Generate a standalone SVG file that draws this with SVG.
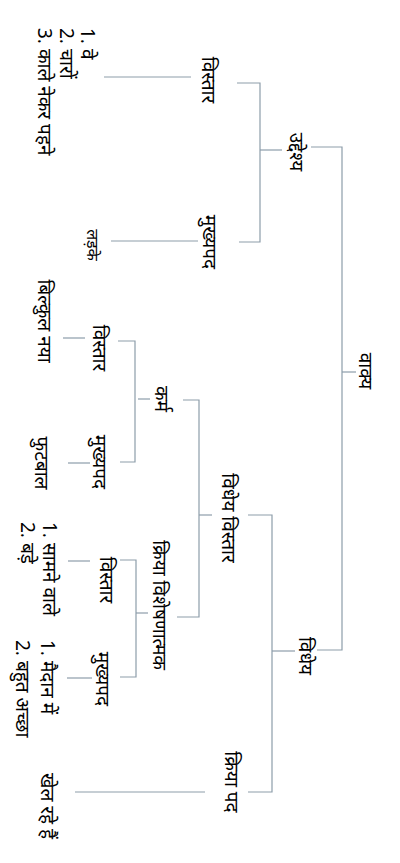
<svg xmlns="http://www.w3.org/2000/svg" width="400" height="863" viewBox="0 0 400 863">
<style>
.c{fill:none;stroke:#8d9daa;stroke-width:1.2}
text{font-family:"Noto Sans","Noto Sans Devanagari","Lohit Devanagari","DejaVu Sans",sans-serif;font-size:19px;fill:#000}
.m{text-anchor:middle}
</style>
<rect width="400" height="863" fill="#fff"/>
<g id="connectors" class="c">
<path d="M342,372H356"/>
<path d="M311,147H342V650H317"/>
<path d="M282,150H260"/>
<path d="M237,83H260V242H239"/>
<path d="M104,77H191"/>
<path d="M111,241H198"/>
<path d="M183,400H199V617H177"/>
<path d="M199,515H212"/>
<path d="M150,399H138"/>
<path d="M118,341H135V462H120"/>
<path d="M63,338H85"/>
<path d="M68,463H90"/>
<path d="M148,613H136"/>
<path d="M120,560H136V677H120"/>
<path d="M68,561H90"/>
<path d="M67,678H92"/>
<path d="M295,651H272"/>
<path d="M248,515H272V792H248"/>
<path d="M205,792H75"/>
</g>
<g id="n-vakya"><text class="m" transform="translate(359,371) rotate(90)">वाक्य</text></g>
<g id="n-uddeshya"><text class="m" transform="translate(290,152) rotate(90)">उद्देश्य</text></g>
<g id="n-vidheya"><text class="m" transform="translate(299,656) rotate(90)">विधेय</text></g>
<g id="n-u-vistar"><text class="m" transform="translate(202,80) rotate(90)">विस्तार</text></g>
<g id="n-u-mukhya"><text class="m" transform="translate(203,242) rotate(90)">मुख्यपद</text></g>
<g id="n-u-vistar-leaf"><text transform="translate(81,28) rotate(90)"><tspan x="0" y="0">1. वे</tspan><tspan x="0" y="21.5">2. चारों</tspan><tspan x="0" y="43">3. काले नेकर पहने</tspan></text></g>
<g id="n-ladke"><text class="m" style="font-size:16px" transform="translate(87,245) rotate(90)">लड़के</text></g>
<g id="n-vidheya-vistar"><text class="m" transform="translate(222,518) rotate(90)">विधेय विस्तार</text></g>
<g id="n-karma"><text class="m" transform="translate(155,399) rotate(90)">कर्म</text></g>
<g id="n-kriyavishe"><text class="m" transform="translate(153,605) rotate(90)">क्रिया विशेषणात्मक</text></g>
<g id="n-k-vistar"><text class="m" transform="translate(93,348) rotate(90)">विस्तार</text></g>
<g id="n-k-mukhya"><text class="m" transform="translate(93,462) rotate(90)">मुख्यपद</text></g>
<g id="n-bilkul"><text class="m" transform="translate(38,321) rotate(90)">बिल्कुल नया</text></g>
<g id="n-football"><text class="m" transform="translate(35,463) rotate(90)">फुटबाल</text></g>
<g id="n-kv-vistar"><text class="m" transform="translate(100,580) rotate(90)">विस्तार</text></g>
<g id="n-kv-mukhya"><text class="m" transform="translate(96,679) rotate(90)">मुख्यपद</text></g>
<g id="n-samne"><text transform="translate(43,522) rotate(90)"><tspan x="0" y="0">1. सामने वाले</tspan><tspan x="0" y="22">2. बड़े</tspan></text></g>
<g id="n-maidan"><text transform="translate(41,640) rotate(90)"><tspan x="0" y="0">1. मैदान में</tspan><tspan x="0" y="25">2. बहुत अच्छा</tspan></text></g>
<g id="n-khel"><text class="m" transform="translate(41,806) rotate(90)">खेल रहे हैं</text></g>
<g id="n-kriyapad"><text class="m" transform="translate(225,782) rotate(90)">क्रिया पद</text></g>
</svg>
